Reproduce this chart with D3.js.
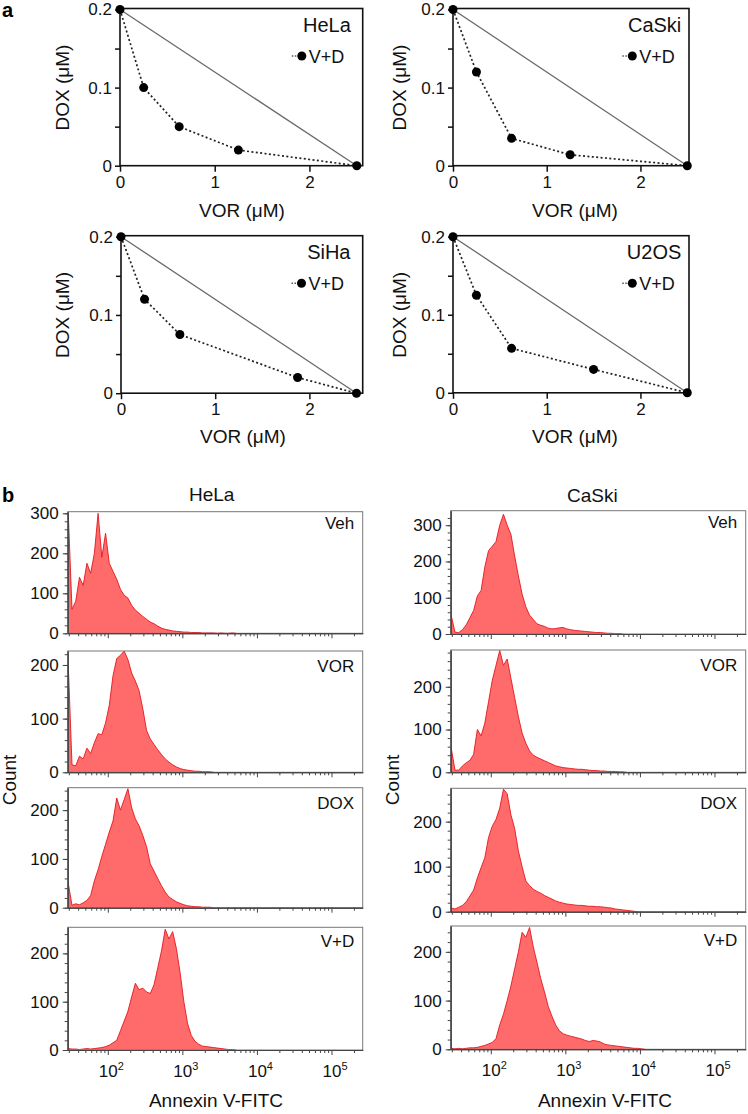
<!DOCTYPE html>
<html><head><meta charset="utf-8">
<script src="https://cdn.jsdelivr.net/npm/d3@7"></script>
<style>
html,body{margin:0;padding:0;background:#fff;}
svg{display:block;font-family:"Liberation Sans",Arial,Helvetica,sans-serif;}
</style></head><body>
<svg id="chart" width="748" height="1114"></svg>
<script>
// ================= DATA: panel a (isobolograms) =================
const isoCellLines = ["HeLa", "CaSki", "SiHa", "U2OS"];
const isoVOR_HeLa  = [0, 0.25, 0.625, 1.25, 2.5];
const isoDOX_HeLa  = [0.2, 0.1, 0.05, 0.02, 0];
const isoVOR_CaSki = [0, 0.25, 0.625, 1.25, 2.5];
const isoDOX_CaSki = [0.2, 0.12, 0.035, 0.014, 0];
const isoVOR_SiHa  = [0, 0.25, 0.625, 1.875, 2.5];
const isoDOX_SiHa  = [0.2, 0.12, 0.075, 0.02, 0];
const isoVOR_U2OS  = [0, 0.25, 0.625, 1.5, 2.5];
const isoDOX_U2OS  = [0.2, 0.125, 0.057, 0.03, 0];
const additiveVOR = [0, 2.5];
const additiveDOX = [0.2, 0];
const isoXTicks = [0, 1, 2];
const isoYTicks = [0, 0.1, 0.2];
const isoYMinorTicks = [0.05, 0.15];
const isoLegend = "V+D";

// ================= DATA: panel b (Annexin V histograms) =================
const histCellLines = ["HeLa", "CaSki"];
const histTreatments = ["Veh", "VOR", "DOX", "V+D"];
const histBinStartLog = 1.47;   // log10 of first channel shown
const histBinStepLog = 0.05;    // channel width in decades
const hela_Veh = [300,60,80,140,120,175,150,200,300,190,250,175,155,135,110,95,88,70,58,50,42,35,28,24,18,13,10,8,6,5,4,3,3,2,2,2,1,1,1,1,0,1,0,0,1,0];
const hela_VOR = [200,14,12,30,25,45,35,55,72,70,92,125,180,212,218,226,210,185,170,152,118,78,62,52,42,33,25,19,14,10,7,5,4,3,2,2,1,1,1,0];
const hela_DOX = [50,5,8,6,10,15,25,55,78,105,130,155,178,225,200,222,244,205,182,168,148,125,90,75,60,45,32,22,17,12,9,6,4,3,2,2,1,1,1,0];
const hela_VD  = [3,2,2,1,2,3,2,3,4,5,7,10,15,20,40,60,80,110,138,125,128,120,117,135,170,205,250,230,245,210,160,100,55,30,18,12,8,7,6,5,4,3,2,1,1,0];
const caski_Veh = [50,5,4,12,25,45,65,105,120,185,230,242,255,300,330,300,275,215,160,110,75,52,40,28,24,21,16,14,15,17,18,14,12,10,9,8,7,6,5,4,4,3,2,2,1,1,0];
const caski_VOR = [56,5,5,15,22,28,42,100,85,115,165,215,250,285,250,265,220,175,130,92,68,50,40,35,31,27,23,19,15,13,11,10,9,8,7,7,6,5,4,4,3,3,2,2,2,1,1,0];
const caski_DOX = [8,6,10,14,22,35,48,75,98,120,165,190,205,230,272,262,215,185,135,100,68,58,50,45,41,36,32,28,24,21,19,17,16,15,14,14,13,12,12,11,11,10,9,8,6,5,4,3,2,1,0];
const caski_VD  = [2,1,2,1,2,3,3,4,6,8,11,14,22,50,72,100,130,165,200,240,230,250,210,178,145,118,88,68,50,38,32,29,27,25,23,21,18,16,18,17,15,11,9,8,7,6,5,4,3,2,2,1,0];
const histYMax_HeLa  = [304, 226, 246, 254];
const histYMax_CaSki = [340, 286, 274, 253];
const histYTicks = [0, 100, 200, 300];
const histYMinorStep = 20;
const histXDomain = [29, 262144];
const histXMajorTicks = [1e2, 1e3, 1e4, 1e5];
const histXTickExponents = ["2", "3", "4", "5"];
const histXLabel = "Annexin V-FITC";
const histYLabel = "Count";

// ================= DRAWING =================
const svg = d3.select("#chart");
const FONT_TICK = 17, FONT_AXIS = 19;

// ---------- panel letters ----------
svg.append("text").attr("x", 2).attr("y", 17).attr("font-size", 20).attr("font-weight", "bold").text("a");
svg.append("text").attr("x", 2).attr("y", 502).attr("font-size", 20).attr("font-weight", "bold").text("b");

// ---------- panel a ----------
const isoLayout = [
  {x0: 120, x25: 356.8, xr: 362.7, y0: 165.7, y2: 9.5,   ylab: 69,    xlabY: 216.5},
  {x0: 453, x25: 687.3, xr: 689,   y0: 165.7, y2: 9.5,   ylab: 405.5, xlabY: 216.5},
  {x0: 121, x25: 356.5, xr: 362.7, y0: 393.2, y2: 236.7, ylab: 69,    xlabY: 443.3},
  {x0: 453, x25: 687.3, xr: 689,   y0: 392.8, y2: 236.7, ylab: 405.5, xlabY: 443.3}
];
const isoVORs = [isoVOR_HeLa, isoVOR_CaSki, isoVOR_SiHa, isoVOR_U2OS];
const isoDOXs = [isoDOX_HeLa, isoDOX_CaSki, isoDOX_SiHa, isoDOX_U2OS];

isoCellLines.forEach((cell, i) => {
  const L = isoLayout[i];
  const x = d3.scaleLinear().domain([0, 2.5]).range([L.x0, L.x25]);
  const y = d3.scaleLinear().domain([0, 0.2]).range([L.y0, L.y2]);
  const g = svg.append("g");

  g.append("rect").attr("x", L.x0).attr("y", L.y2 - 1).attr("width", L.xr - L.x0).attr("height", L.y0 - L.y2 + 1)
    .attr("fill", "none").attr("stroke", "#111").attr("stroke-width", 1.6);

  const yAx = g.append("g").attr("transform", `translate(${L.x0},0)`)
    .call(d3.axisLeft(y).tickValues(isoYTicks).tickSize(5).tickSizeOuter(0).tickPadding(3).tickFormat(d => String(d)));
  const yMin = g.append("g").attr("transform", `translate(${L.x0},0)`)
    .call(d3.axisLeft(y).tickValues(isoYMinorTicks).tickSize(5).tickSizeOuter(0).tickFormat(""));
  const xAx = g.append("g").attr("transform", `translate(0,${L.y0})`)
    .call(d3.axisBottom(x).tickValues(isoXTicks).tickSize(6).tickSizeOuter(0).tickPadding(4).tickFormat(d => String(d)));
  [yAx, yMin, xAx].forEach(a => {
    a.select(".domain").remove();
    a.selectAll("line").attr("stroke", "#111").attr("stroke-width", 1.5);
    a.selectAll("text").attr("font-size", FONT_TICK).attr("fill", "#111").attr("font-family", null);
  });

  g.append("path").datum(d3.zip(additiveVOR, additiveDOX))
    .attr("d", d3.line().x(d => x(d[0])).y(d => y(d[1])))
    .attr("fill", "none").attr("stroke", "#6a6a6a").attr("stroke-width", 1.3);

  const pts = d3.zip(isoVORs[i], isoDOXs[i]);
  g.append("path").datum(pts)
    .attr("d", d3.line().x(d => x(d[0])).y(d => y(d[1])))
    .attr("fill", "none").attr("stroke", "#222").attr("stroke-width", 1.7).attr("stroke-dasharray", "2,2.4");
  g.selectAll("circle.pt").data(pts).join("circle").attr("class", "pt")
    .attr("cx", d => x(d[0])).attr("cy", d => y(d[1])).attr("r", 4.5).attr("fill", "#000");

  g.append("text").attr("x", L.x25 - 6).attr("y", L.y2 + 22.5).attr("text-anchor", "end")
    .attr("font-size", 20).attr("fill", "#111").text(cell);
  const ly = L.y2 + 46.5, lx = L.x25 - 55;
  g.append("line").attr("x1", lx - 10).attr("x2", lx).attr("y1", ly).attr("y2", ly)
    .attr("stroke", "#555").attr("stroke-width", 1.4).attr("stroke-dasharray", "1.5,1.5");
  g.append("circle").attr("cx", lx).attr("cy", ly).attr("r", 4.5).attr("fill", "#000");
  g.append("text").attr("x", L.x25 - 48).attr("y", ly + 6.5).attr("font-size", 18).attr("fill", "#111").text(isoLegend);

  g.append("text").attr("x", L.x0 + 122).attr("y", L.xlabY).attr("text-anchor", "middle")
    .attr("font-size", FONT_AXIS).attr("fill", "#111").text("VOR (\u03bcM)");
  g.append("text").attr("transform", `translate(${L.ylab},${(L.y0 + L.y2) / 2}) rotate(-90)`)
    .attr("text-anchor", "middle").attr("font-size", FONT_AXIS).attr("fill", "#111").text("DOX (\u03bcM)");
});

// ---------- panel b ----------
const histData = {
  HeLa: [hela_Veh, hela_VOR, hela_DOX, hela_VD],
  CaSki: [caski_Veh, caski_VOR, caski_DOX, caski_VD]
};
const histYMax = {HeLa: histYMax_HeLa, CaSki: histYMax_CaSki};
const histCols = [
  {left: 67.7, right: 362.7, titleX: 211.7, titleY: 500.7, countX: 16, xlabX: 216,
   rows: [[511.7, 633.3], [651, 772.3], [787.7, 907.7], [927.3, 1050]]},
  {left: 450.7, right: 745.7, titleX: 592.3, titleY: 501.7, countX: 399, xlabX: 605,
   rows: [[510.7, 634], [650, 772.3], [788.3, 911.7], [926, 1049.3]]}
];
const histLabelOffsets = [17, 20.5, 21, 20];

histCellLines.forEach((cell, ci) => {
  const C = histCols[ci];
  const x = d3.scaleLog().domain(histXDomain).range([C.left, C.right]);
  svg.append("text").attr("x", C.titleX).attr("y", C.titleY).attr("text-anchor", "middle")
    .attr("font-size", 19).attr("fill", "#111").text(cell);

  histTreatments.forEach((tr, ri) => {
    const [top, bottom] = C.rows[ri];
    const yMax = histYMax[cell][ri];
    const y = d3.scaleLinear().domain([0, yMax]).range([bottom, top]);
    const vals = histData[cell][ri];
    const series = vals.map((v, k) => [Math.pow(10, histBinStartLog + k * histBinStepLog), v]);
    const g = svg.append("g");
    const clipId = `clip-${ci}-${ri}`;
    g.append("clipPath").attr("id", clipId).append("rect")
      .attr("x", C.left).attr("y", top).attr("width", C.right - C.left).attr("height", bottom - top);

    const hg = g.append("g").attr("clip-path", `url(#${clipId})`);
    hg.append("path").datum(series)
      .attr("d", d3.area().x(d => x(d[0])).y0(y(0)).y1(d => y(d[1])))
      .attr("fill", "#ff6b6b");
    hg.append("path").datum(series)
      .attr("d", d3.line().x(d => x(d[0])).y(d => y(d[1])))
      .attr("fill", "none").attr("stroke", "#e4161d").attr("stroke-width", 0.9);

    g.append("rect").attr("x", C.left).attr("y", top).attr("width", C.right - C.left).attr("height", bottom - top)
      .attr("fill", "none").attr("stroke", "#777").attr("stroke-width", 1);

    const yT = histYTicks.filter(t => t <= yMax);
    const yAx = g.append("g").attr("transform", `translate(${C.left},0)`)
      .call(d3.axisLeft(y).tickValues(yT).tickSize(5).tickSizeOuter(0).tickPadding(4).tickFormat(d => String(d)));
    const yMin = g.append("g").attr("transform", `translate(${C.left},0)`)
      .call(d3.axisLeft(y).tickValues(d3.range(0, yMax, histYMinorStep)).tickSize(3).tickSizeOuter(0).tickFormat(""));
    const minorX = [];
    [10, 100, 1000, 10000, 100000].forEach(dec => { for (let m = 2; m <= 9; m++) { const v = m * dec; if (v >= histXDomain[0] && v <= histXDomain[1]) minorX.push(v); } });
    const xAx = g.append("g").attr("transform", `translate(0,${bottom})`)
      .call(d3.axisBottom(x).tickValues(histXMajorTicks).tickSize(5).tickSizeOuter(0).tickFormat(""));
    const xMin = g.append("g").attr("transform", `translate(0,${bottom})`)
      .call(d3.axisBottom(x).tickValues(minorX).tickSize(3).tickSizeOuter(0).tickFormat(""));
    [yAx, yMin, xAx, xMin].forEach(a => {
      a.select(".domain").attr("stroke", "#444").attr("stroke-width", 1.1);
      a.selectAll("line").attr("stroke", "#444").attr("stroke-width", 1);
      a.selectAll("text").attr("font-size", 17).attr("fill", "#111").attr("font-family", null);
    });

    g.append("text").attr("x", C.right - 8.5).attr("y", top + histLabelOffsets[ri]).attr("text-anchor", "end")
      .attr("font-size", 17).attr("fill", "#111").text(tr);

    if (ri === histTreatments.length - 1) {
      const lab = g.selectAll("text.xt").data(histXMajorTicks).join("text").attr("class", "xt")
        .attr("x", d => x(d) - 9).attr("y", bottom + 27).attr("font-size", 17).attr("fill", "#111");
      lab.append("tspan").text("10");
      lab.append("tspan").attr("font-size", 11).attr("dy", -7).text((d, k) => histXTickExponents[k]);
    }
  });

  svg.append("text").attr("x", C.xlabX).attr("y", 1107).attr("text-anchor", "middle")
    .attr("font-size", 19).attr("fill", "#111").text(histXLabel);
  svg.append("text").attr("transform", `translate(${C.countX},780) rotate(-90)`).attr("text-anchor", "middle")
    .attr("font-size", 19).attr("fill", "#111").text(histYLabel);
});
</script>
</body></html>
